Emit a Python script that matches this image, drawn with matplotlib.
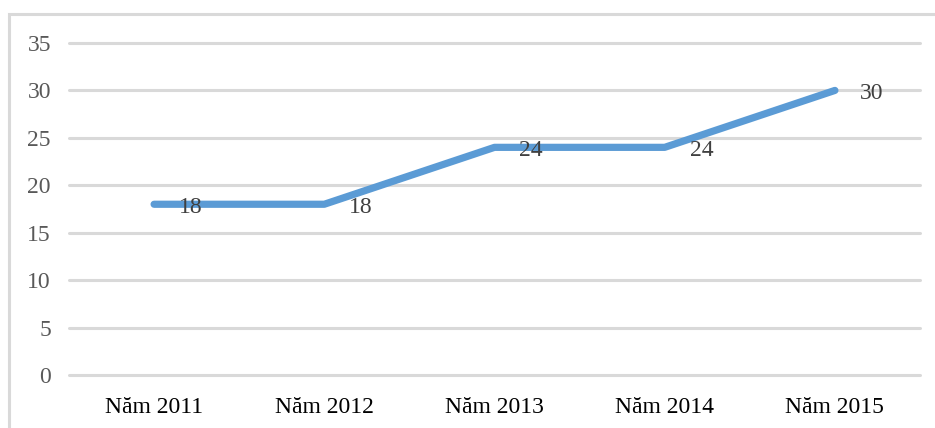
import matplotlib.pyplot as plt
from matplotlib.patches import Rectangle

years = ["Năm 2011", "Năm 2012", "Năm 2013", "Năm 2014", "Năm 2015"]
values = [18, 18, 24, 24, 30]
yticks = [0, 5, 10, 15, 20, 25, 30, 35]

plt.rcParams["font.family"] = ["Liberation Serif", "DejaVu Serif"]

fig = plt.figure(figsize=(9.35, 4.28), dpi=100)
ax = fig.add_axes([69 / 935, 1 - 375 / 428, 851 / 935, 332 / 428])

# outer chart frame (only left and top edges fall inside the image)
W, H = 935, 428
fig.patches.append(Rectangle((9 / W, -0.05), 2, 1 - 14 / H + 0.05,
                             transform=fig.transFigure, fill=False,
                             edgecolor="#D9D9D9", linewidth=2.2))

x = range(len(years))
ax.plot(x, values, color="#5B9BD5", linewidth=5.2, solid_capstyle="round",
        solid_joinstyle="round", zorder=3)

for xi, v in zip(x, values):
    ax.annotate(str(v), (xi, v), xytext=(18, -2), textcoords="offset points",
                ha="left", va="center", fontsize=17, color="#404040", zorder=4)

ax.set_xlim(-0.5, len(years) - 0.5)
ax.set_ylim(0, 35)
ax.set_yticks(yticks)
ax.set_xticks(list(x))
ax.set_xticklabels(years)

for yv in yticks:
    ax.axhline(yv, color="#D9D9D9", linewidth=2.2, solid_capstyle="round",
               zorder=1, clip_on=False)

for s in ax.spines.values():
    s.set_visible(False)
ax.tick_params(axis="y", length=0, pad=13, labelsize=17, labelcolor="#595959")
ax.tick_params(axis="x", length=0, pad=16, labelsize=17, labelcolor="#000000")

fig.savefig("out.png", dpi=100)
